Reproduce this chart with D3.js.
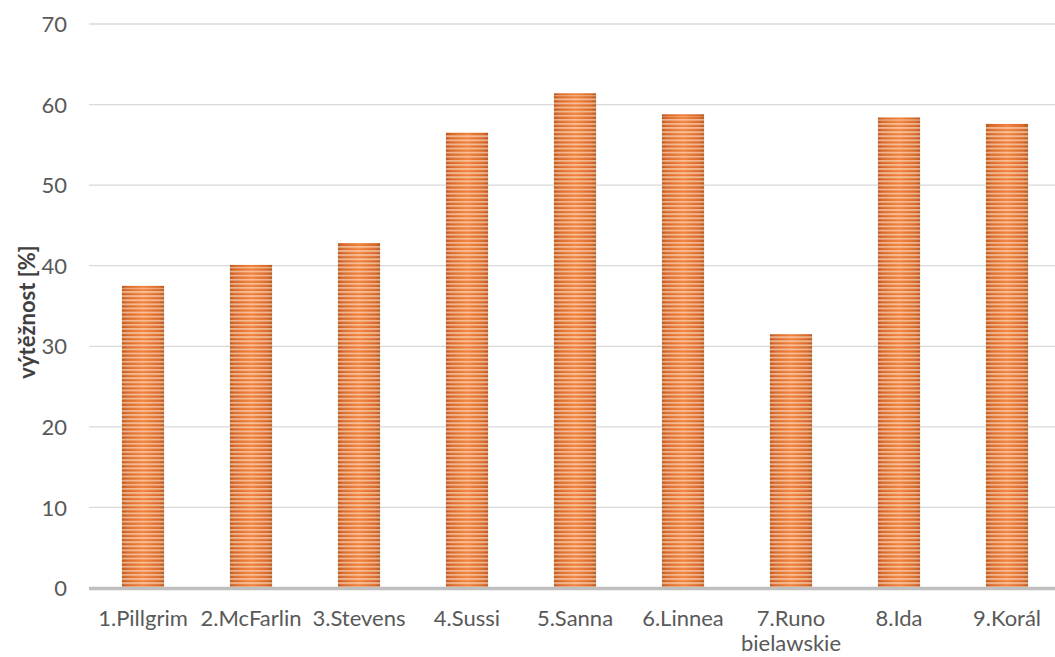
<!DOCTYPE html>
<html>
<head>
<meta charset="utf-8">
<script src="https://cdn.jsdelivr.net/npm/d3@7"></script>
<style>
  html, body { margin: 0; padding: 0; background: #fff; }
  svg text { font-family: Lato, "Open Sans", sans-serif; }
</style>
</head>
<body>
<svg id="chart" width="1055" height="657"></svg>
<script>
// Varieties and their yield (%)
const categories = ["1.Pillgrim", "2.McFarlin", "3.Stevens", "4.Sussi", "5.Sanna", "6.Linnea", "7.Runo bielawskie", "8.Ida", "9.Korál"];
const values = [37.5, 40.1, 42.8, 56.5, 61.4, 58.8, 31.5, 58.4, 57.6];
const yTicks = [0, 10, 20, 30, 40, 50, 60, 70];
const yTitle = "výtěžnost [%]";

const svg = d3.select("#chart");
const W = 1055, H = 657;
const plotLeft = 89, plotRight = 1061, plotTop = 24, plotBottom = 588;

const x = d3.scaleBand().domain(categories).range([plotLeft, plotRight]).paddingInner(0.61).paddingOuter(0.305);
const y = d3.scaleLinear().domain([0, 70]).range([plotBottom, plotTop]);

const defs = svg.append("defs");
// horizontal shading across each bar
const grad = defs.append("linearGradient").attr("id", "barShade").attr("x1", "0").attr("x2", "1").attr("y1", "0").attr("y2", "0");
grad.append("stop").attr("offset", "0%").attr("stop-color", "#b65a22");
grad.append("stop").attr("offset", "12%").attr("stop-color", "#d8692a");
grad.append("stop").attr("offset", "50%").attr("stop-color", "#f2843e");
grad.append("stop").attr("offset", "88%").attr("stop-color", "#d8692a");
grad.append("stop").attr("offset", "100%").attr("stop-color", "#b65a22");
// light horizontal stripes
const pat = defs.append("pattern").attr("id", "stripes").attr("patternUnits", "userSpaceOnUse")
  .attr("width", 8).attr("height", 4.1);
pat.append("rect").attr("x", 0).attr("y", 0).attr("width", 8).attr("height", 1.9).attr("fill", "#ffe6d2").attr("fill-opacity", 0.6);

// gridlines
svg.append("g").selectAll("line").data(yTicks.filter(d => d > 0)).join("line")
  .attr("x1", plotLeft).attr("x2", W).attr("y1", d => y(d)).attr("y2", d => y(d))
  .attr("stroke", "#d9d9d9").attr("stroke-width", 1.3);

// y axis labels
const yAxis = d3.axisLeft(y).tickValues(yTicks).tickSize(0).tickPadding(0);
const gy = svg.append("g").attr("transform", `translate(${plotLeft - 22},0)`).call(yAxis);
gy.select(".domain").remove();
gy.selectAll("text").attr("font-size", 22).attr("fill", "#595959").attr("dy", "0.35em")
  .style("font-family", "Lato, sans-serif");

// bars
const bars = svg.append("g");
bars.selectAll("rect.base").data(values).join("rect").attr("class", "base")
  .attr("x", (d, i) => x(categories[i])).attr("width", x.bandwidth())
  .attr("y", d => y(d)).attr("height", d => y(0) - y(d))
  .attr("fill", "url(#barShade)");
bars.selectAll("rect.stripe").data(values).join("rect").attr("class", "stripe")
  .attr("x", (d, i) => x(categories[i])).attr("width", x.bandwidth())
  .attr("y", d => y(d) + 2).attr("height", d => y(0) - y(d) - 2)
  .attr("fill", "url(#stripes)");

// baseline
svg.append("line").attr("x1", plotLeft).attr("x2", W).attr("y1", y(0) + 0.5).attr("y2", y(0) + 0.5)
  .attr("stroke", "#bfbfbf").attr("stroke-width", 3.5);

// x labels
const xl = svg.append("g").selectAll("text").data(categories).join("text")
  .attr("x", d => x(d) + x.bandwidth() / 2).attr("y", 626)
  .attr("text-anchor", "middle").attr("font-size", 22).attr("fill", "#595959");
xl.each(function(d) {
  const t = d3.select(this);
  const parts = d === "7.Runo bielawskie" ? ["7.Runo", "bielawskie"] : [d];
  parts.forEach((p, i) => t.append("tspan").attr("x", t.attr("x")).attr("dy", i === 0 ? 0 : 25).text(p));
});

// y title
svg.append("text").attr("transform", `translate(35,${(plotTop + plotBottom) / 2 + 6}) rotate(-90)`)
  .attr("text-anchor", "middle").attr("font-size", 22).attr("font-weight", "bold").attr("fill", "#404040")
  .text(yTitle);
</script>
</body>
</html>
